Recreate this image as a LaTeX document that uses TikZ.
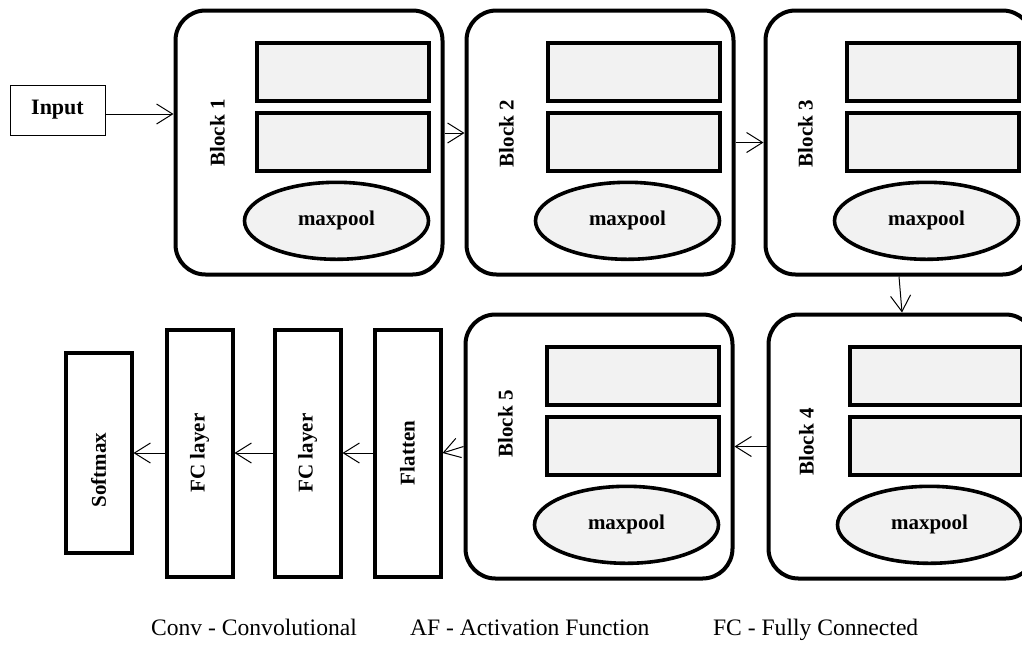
\documentclass[tikz,border=0pt]{standalone}
\usepackage{fontspec}
\setmainfont{Liberation Serif}
\usetikzlibrary{arrows.meta,positioning,shapes,calc}

\begin{document}
\begin{tikzpicture}[>={Straight Barb[length=8pt,width=10pt]},
    font=\fontsize{10.5}{12}\selectfont\bfseries,
    blockbox/.style={draw,line width=2pt,rounded corners=15pt,minimum width=133.5pt,minimum height=132pt,inner sep=0pt},
    convbox/.style={draw,line width=2pt,fill=gray!10,minimum width=86pt,minimum height=29pt,inner sep=0pt},
    poolnode/.style={draw,ellipse,line width=1.8pt,fill=gray!10,minimum width=92pt,minimum height=38.5pt,inner sep=0pt},
    layerbox/.style={draw,line width=2pt,minimum width=33pt,minimum height=123.5pt,inner sep=0pt},
    legend/.style={anchor=base west,font=\fontsize{11.8}{14}\selectfont\mdseries},
    link/.style={->,line width=0.5pt}]
    \useasboundingbox (0,0) rectangle (511pt,-322pt);
    \node[draw,line width=0.5pt,minimum width=47.5pt,minimum height=25pt,font=\fontsize{11}{13}\selectfont\bfseries] (in) at (28.75pt,-55pt) {Input};
    \node[blockbox] (b1) at (154.5pt,-71.25pt) {};
    \node[blockbox,right=10pt of b1] (b2) {};
    \node[blockbox,right=14pt of b2] (b3) {};
    \node[blockbox,below=18pt of b3,xshift=1.5pt] (b4) {};
    \node[blockbox,left=16pt of b4] (b5) {};
    \node[rotate=90] (t1) at ($(b1.west)+(22pt,4.75pt)$) {Block 1};
    \node[rotate=90] (t2) at ($(b2.west)+(21pt,4.5pt)$) {Block 2};
    \node[rotate=90] (t3) at ($(b3.west)+(21pt,4.5pt)$) {Block 3};
    \node[rotate=90] (t4) at ($(b4.west)+(20pt,2.25pt)$) {Block 4};
    \node[rotate=90] (t5) at ($(b5.west)+(21pt,11.25pt)$) {Block 5};
    \node[convbox,below left=16pt and 7pt of b1.north east] (b1a) {};
    \node[convbox,below=4pt of b1a] (b1b) {};
    \node[poolnode,below=4pt of b1b,xshift=-3pt] (b1p) {maxpool};
    \node[convbox,below left=16pt and 7pt of b2.north east] (b2a) {};
    \node[convbox,below=4pt of b2a] (b2b) {};
    \node[poolnode,below=4pt of b2b,xshift=-3pt] (b2p) {maxpool};
    \node[convbox,below left=16pt and 7pt of b3.north east] (b3a) {};
    \node[convbox,below=4pt of b3a] (b3b) {};
    \node[poolnode,below=4pt of b3b,xshift=-3pt] (b3p) {maxpool};
    \node[convbox,below left=16pt and 7pt of b4.north east] (b4a) {};
    \node[convbox,below=4pt of b4a] (b4b) {};
    \node[poolnode,below=4pt of b4b,xshift=-3pt] (b4p) {maxpool};
    \node[convbox,below left=16pt and 7pt of b5.north east] (b5a) {};
    \node[convbox,below=4pt of b5a] (b5b) {};
    \node[poolnode,below=4pt of b5b,xshift=-3pt] (b5p) {maxpool};
    \node[layerbox,left=10.5pt of b5,yshift=-3.25pt] (flat) {\rotatebox{90}{Flatten}};
    \node[layerbox,left=15pt of flat] (fc2) {\rotatebox{90}{FC layer}};
    \node[layerbox,left=19pt of fc2] (fc1) {\rotatebox{90}{FC layer}};
    \node[layerbox,minimum height=100pt,left=15.5pt of fc1] (soft) {};
    \node[rotate=90] (softtxt) at ([yshift=-8.5pt]soft.center) {Softmax};
    \node[legend] (legconv) at (72pt,-317.5pt) {Conv - Convolutional};
    \node[legend] (legaf) at (201.5pt,-317.5pt) {AF - Activation Function};
    \node[legend] (legfc) at (353pt,-317.5pt) {FC - Fully Connected};
    \draw[link] ([yshift=-2pt]in.east) -- ([yshift=-2pt]in.east -| b1.west);
    \draw[link] ([yshift=4.75pt]b1.east) -- ([yshift=4.75pt]b2.west);
    \draw[link] (b2.east) -- (b3.west);
    \draw[link] (b3.south) -- (b4.north);
    \draw[link] (b4.west) -- (b5.east);
    \draw[link] (b5.west) -- (flat.east);
    \draw[link] (flat.west) -- (fc2.east);
    \draw[link] (fc2.west) -- (fc1.east);
    \draw[link] (fc1.west) -- (soft.east);
  \end{tikzpicture}
\end{document}
